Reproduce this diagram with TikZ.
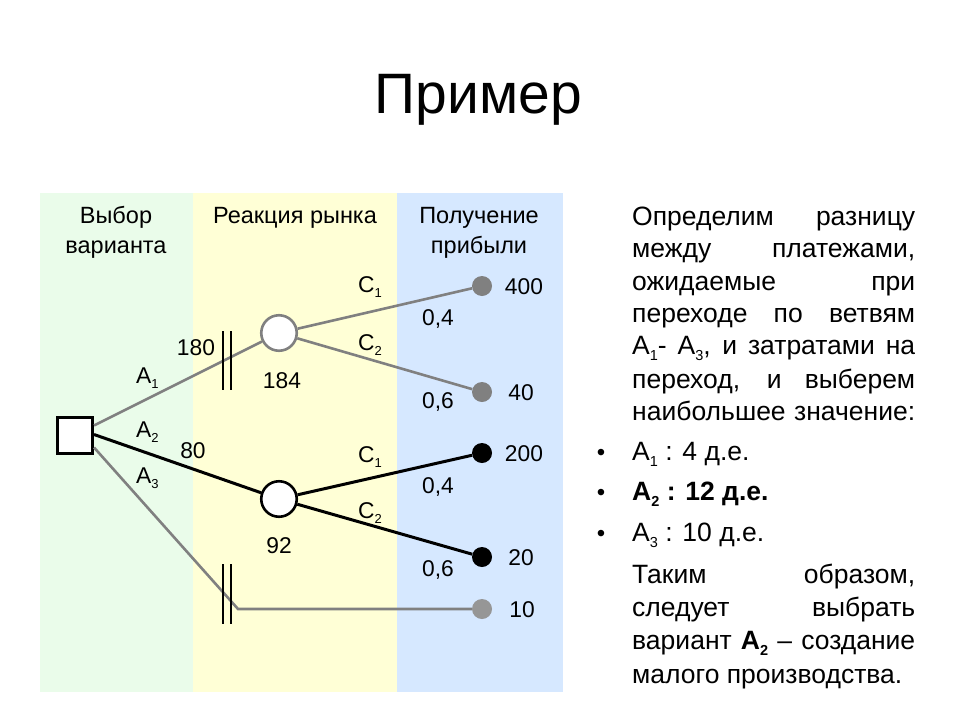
\documentclass[tikz,border=0pt]{standalone}
\usepackage{fontspec}
\setmainfont{Liberation Sans}
\usetikzlibrary{calc}
\definecolor{bggreen}{RGB}{234,252,234}
\definecolor{bgyellow}{RGB}{255,255,214}
\definecolor{bgblue}{RGB}{214,232,255}
\definecolor{linegray}{RGB}{128,128,128}
\definecolor{lightdot}{RGB}{150,150,150}
\newcommand{\subL}[1]{\raisebox{-5pt}{\fontsize{13}{13}\selectfont #1}}
\newcommand{\subT}[1]{\raisebox{-6pt}{\fontsize{14.5}{14.5}\selectfont #1}}
\begin{document}
\begin{tikzpicture}[x=1pt,y=-1pt,
  hdr/.style={inner sep=0pt, anchor=base, font=\fontsize{23.5}{27}\selectfont},
  lbl/.style={inner sep=0pt, anchor=base, font=\fontsize{22.8}{26}\selectfont},
  lblw/.style={inner sep=0pt, anchor=base west, font=\fontsize{22.8}{26}\selectfont},
  txt/.style={inner sep=0pt, anchor=base west, font=\fontsize{26.5}{32}\selectfont},
  bul/.style={inner sep=0pt, anchor=base, font=\fontsize{24}{32}\selectfont},
  gline/.style={draw=linegray, line width=2.6pt},
  bline/.style={draw=black, line width=3pt},
  barline/.style={draw=black, line width=1.1pt},
  dot/.style={circle, minimum size=20pt, inner sep=0pt},
  chance/.style={circle, minimum size=35.5pt, inner sep=0pt, fill=white, line width=2.6pt},
  decision/.style={rectangle, minimum size=35.5pt, inner sep=0pt, fill=white, draw=black, line width=2.6pt},
]
\useasboundingbox (0,0) rectangle (960,720);
\fill[white] (0,0) rectangle (960,720);
% bands
\fill[bggreen] (40,193) rectangle (193,692);
\fill[bgyellow] (193,193) rectangle (397,692);
\fill[bgblue] (397,193) rectangle (563,692);
% title
\node[inner sep=0pt, anchor=base, font=\fontsize{57}{60}\selectfont] (title) at (478.5,113) {Пример};
% headers
\node[hdr] (h1a) at (116,223) {Выбор};
\node[hdr] (h1b) at (116,253) {варианта};
\node[hdr] (h2) at (295,223) {Реакция рынка};
\node[hdr] (h3a) at (479,223) {Получение};
\node[hdr] (h3b) at (479,253) {прибыли};
% tree nodes
\node[decision] (sq) at (75,435.5) {};
\node[chance, draw=linegray] (c1) at (279,333) {};
\node[chance, draw=black] (c2) at (279,499) {};
\node[dot, fill=linegray] (d1) at (482,286) {};
\node[dot, fill=linegray] (d2) at (482,392) {};
\node[dot, fill=black] (d3) at (482,453) {};
\node[dot, fill=black] (d4) at (482,557) {};
\node[dot, fill=lightdot] (d5) at (482,609) {};
\coordinate (bend) at (238,609);
% connectors
\draw[gline] ($(sq.east)+(0,-10)$) -- (c1);
\draw[bline] ($(sq.east)+(0,-1)$) -- (c2);
\draw[gline] ($(sq.east)+(0,12)$) -- (bend) -- (d5);
\draw[gline] (c1) -- (d1);
\draw[gline] (c1) -- (d2);
\draw[bline] (c2) -- (d3);
\draw[bline] (c2) -- (d4);
% double bars
\draw[barline] (223,331) -- (223,390);
\draw[barline] (231,331) -- (231,390);
\draw[barline] (223,564) -- (223,624);
\draw[barline] (231,564) -- (231,624);
% labels
\node[lbl] (l180) at (196,355) {180};
\node[lbl] (l184) at (282,388) {184};
\node[lblw] (la1) at (136,383) {А\subL{1}};
\node[lblw] (la2) at (136,437) {А\subL{2}};
\node[lbl] (l80) at (193,458) {80};
\node[lblw] (la3) at (136,483) {А\subL{3}};
\node[lbl] (l92) at (279,553) {92};
\node[lblw] (lc1) at (358,292) {C\subL{1}};
\node[lblw] (lc2) at (358,350) {C\subL{2}};
\node[lbl] (p1) at (438,325) {0,4};
\node[lbl] (p2) at (438,408) {0,6};
\node[lblw] (lc3) at (358,462) {C\subL{1}};
\node[lblw] (lc4) at (358,518) {C\subL{2}};
\node[lbl] (p3) at (438,493) {0,4};
\node[lbl] (p4) at (438,576) {0,6};
\node[lbl] (v1) at (524,294) {400};
\node[lbl] (v2) at (521,400) {40};
\node[lbl] (v3) at (524,461) {200};
\node[lbl] (v4) at (521,565) {20};
\node[lbl] (v5) at (522,617) {10};
% right text
\node[txt] (t1) at (632,225) {\makebox[283pt][s]{Определим разницу}};
\node[txt] (t2) at (632,257) {\makebox[283pt][s]{между платежами,}};
\node[txt] (t3) at (632,290) {\makebox[283pt][s]{ожидаемые при}};
\node[txt] (t4) at (632,322) {\makebox[283pt][s]{переходе по ветвям}};
\node[txt] (t5) at (632,354.5) {\makebox[283pt][s]{А\subT{1}- А\subT{3}, и затратами на}};
\node[txt] (t6) at (632,388) {\makebox[283pt][s]{переход, и выберем}};
\node[txt] (t7) at (632,420) {\makebox[283pt][s]{наибольшее значение:}};
\node[bul] (b1) at (601,460) {•};
\node[txt] (t8) at (632,460) {А\subT{1} : 4 д.е.};
\node[bul] (b2) at (601,500) {•};
\node[txt] (t9) at (632,500) {\textbf{А\subT{2} : 12 д.е.}};
\node[bul] (b3) at (601,541.5) {•};
\node[txt] (t10) at (632,541.5) {А\subT{3} : 10 д.е.};
\node[txt] (t11) at (632,583) {\makebox[283pt][s]{Таким образом,}};
\node[txt] (t12) at (632,616.5) {\makebox[283pt][s]{следует выбрать}};
\node[txt] (t13) at (632,649.5) {\makebox[283pt][s]{вариант \textbf{А\subT{2}} – создание}};
\node[txt] (t14) at (632,683) {малого производства.};
\end{tikzpicture}
\end{document}
